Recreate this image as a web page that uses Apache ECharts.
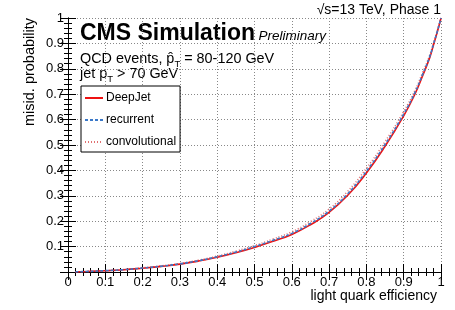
<!DOCTYPE html>
<html><head><meta charset="utf-8">
<script src="https://cdn.jsdelivr.net/npm/echarts@6/dist/echarts.min.js"></script>
<style>html,body{margin:0;padding:0;background:#fff}#c{width:455px;height:310px}</style>
</head><body><div id="c"></div>
<script>
const efficiency = [0.02,0.05,0.1,0.15,0.2,0.25,0.3,0.35,0.4,0.45,0.5,0.55,0.6,0.65,0.7,0.75,0.8,0.85,0.9,0.93,0.95,0.97,0.98,0.99,1.0];
const deepJet      = [0.0005,0.002,0.005,0.009,0.015,0.022,0.031,0.043,0.058,0.076,0.097,0.121,0.148,0.186,0.235,0.302,0.390,0.495,0.615,0.700,0.770,0.845,0.895,0.945,1.0];
const recurrent    = [0.0005,0.002,0.0052,0.0093,0.0155,0.0228,0.032,0.0445,0.060,0.0785,0.100,0.125,0.152,0.191,0.240,0.308,0.397,0.502,0.622,0.706,0.775,0.849,0.898,0.947,1.0];
const convolutional= [0.0005,0.002,0.0055,0.0098,0.0163,0.024,0.0335,0.0465,0.0625,0.082,0.104,0.130,0.158,0.198,0.248,0.318,0.408,0.513,0.632,0.714,0.782,0.854,0.902,0.949,1.0];
const xTicks = [0,0.1,0.2,0.3,0.4,0.5,0.6,0.7,0.8,0.9,1];

const F = 'Liberation Sans, Arial, Helvetica, sans-serif';
const chart = echarts.init(document.getElementById('c'), null, {renderer:'canvas'});
const pair = ys => efficiency.map((x,i)=>[x, ys[i]]);
const fmt = v => { if (Math.abs(v) < 1e-9) return '0'; if (Math.abs(v-1)<1e-9) return '1'; return v.toFixed(1); };
const baseAxis = {
  type:'value', min:0, max:1, interval:0.1,
  axisLine:{show:true, lineStyle:{color:'#000', width:1}},
  axisTick:{show:true, inside:true, length:8, lineStyle:{color:'#000'}},
  minorTick:{show:true, splitNumber:5, length:4, lineStyle:{color:'#000'}},
  splitLine:{show:false}
};
chart.setOption({
  animation:false,
  grid:{left:68, top:18, width:373, height:254, containLabel:false},
  xAxis:[
    Object.assign({}, baseAxis, {position:'bottom',
      axisLabel:{show:true, color:'#000', fontFamily:F, fontSize:13, margin:4, formatter:fmt},
      splitLine:{show:true, lineStyle:{color:'#888', type:[1,2], width:1}},
      name:'light quark efficiency', nameLocation:'end', nameGap:0,
      nameTextStyle:{color:'#000', fontFamily:F, fontSize:14, align:'right', verticalAlign:'top', padding:[17,4,0,0]}
    }),
    Object.assign({}, baseAxis, {position:'top', axisLabel:{show:false}})
  ],
  yAxis:[
    Object.assign({}, baseAxis, {position:'left',
      axisLabel:{show:true, color:'#000', fontFamily:F, fontSize:13, margin:4, formatter:v=> (Math.abs(v)<1e-9 ? '' : fmt(v))},
      splitLine:{show:true, lineStyle:{color:'#888', type:[1,2], width:1}},
      name:'misid. probability', nameLocation:'end', nameRotate:90, nameGap:0,
      nameTextStyle:{color:'#000', fontFamily:F, fontSize:14.5, align:'right', verticalAlign:'bottom', padding:[0,0,31,0]}
    }),
    Object.assign({}, baseAxis, {position:'right', axisLabel:{show:false}})
  ],
  legend:{
    show:true, orient:'vertical', left:81, top:86, width:97, height:66,
    padding:[6,4,4,3], itemGap:10, itemWidth:18, itemHeight:12,
    borderColor:'#000', borderWidth:1, backgroundColor:'#fff',
    itemStyle:{opacity:0},
    textStyle:{color:'#000', fontFamily:F, fontSize:12, padding:[0,0,0,-2]},
    data:['DeepJet','recurrent','convolutional']
  },
  series:[
    {name:'DeepJet', type:'line', data:pair(deepJet), smooth:true, symbol:'none', z:3,
      lineStyle:{color:'#ee1111', width:1.6, type:'solid'}, itemStyle:{color:'#ee1111'}},
    {name:'recurrent', type:'line', data:pair(recurrent), smooth:true, symbol:'none', z:4,
      lineStyle:{color:'#3a78c8', width:1.6, type:[3,2]}, itemStyle:{color:'#3a78c8'}},
    {name:'convolutional', type:'line', data:pair(convolutional), smooth:true, symbol:'none', z:2,
      lineStyle:{color:'#e07070', width:1.6, type:[1,2]}, itemStyle:{color:'#e07070'}}
  ],
  graphic:[
    {type:'text', right:14, top:3, style:{text:'√s=13 TeV, Phase 1', fontFamily:F, fontSize:14, fill:'#000'}},
    {type:'text', left:80, top:22, style:{text:'{b|CMS Simulation} {i|Preliminary}', fill:'#000',
      rich:{b:{fontFamily:F, fontSize:23, fontWeight:'bold', fill:'#000'}, i:{fontFamily:F, fontSize:13.5, fontStyle:'italic', fill:'#000', padding:[5,0,0,0]}}}},
    {type:'text', left:80, top:49, style:{text:'{n|QCD events, p̂}{s|T}{n| = 80-120 GeV}', fill:'#000',
      rich:{n:{fontFamily:F, fontSize:14.4, fill:'#000', lineHeight:16}, s:{fontFamily:F, fontSize:9.5, fill:'#000', padding:[10,0,0,0], lineHeight:16}}}},
    {type:'text', left:80, top:64, style:{text:'{n|jet p}{s|T}{n| > 70 GeV}', fill:'#000',
      rich:{n:{fontFamily:F, fontSize:14.4, fill:'#000', lineHeight:16}, s:{fontFamily:F, fontSize:9.5, fill:'#000', padding:[10,0,0,0], lineHeight:16}}}}
  ]
});
</script></body></html>
